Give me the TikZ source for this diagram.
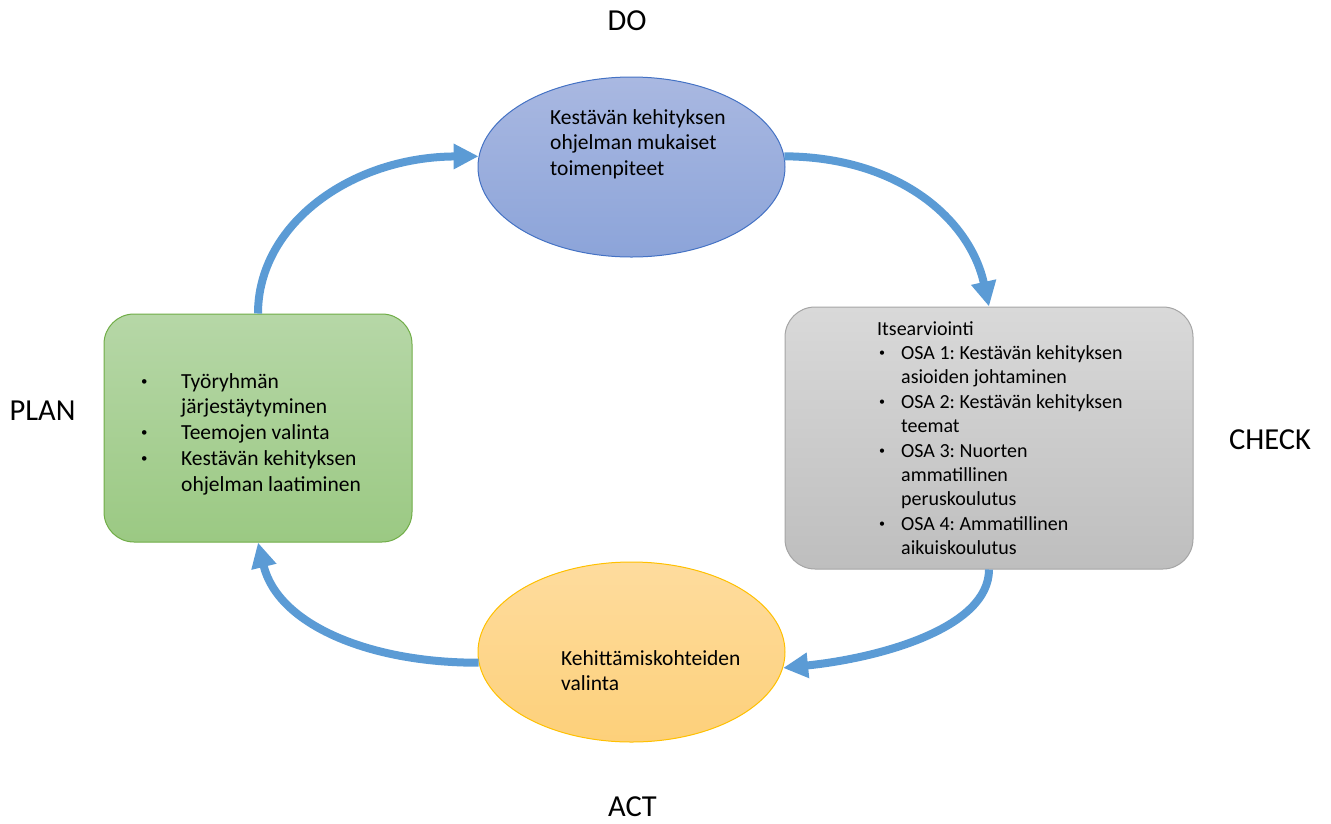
\documentclass[tikz,border=0pt]{standalone}
\usepackage{fontspec}
\usepackage{graphicx}
\setmainfont{Carlito}
\usetikzlibrary{shapes.geometric,arrows.meta}

\definecolor{cycleblue}{HTML}{5B9BD5}
\definecolor{doTop}{HTML}{A9B8E1}
\definecolor{doBot}{HTML}{8CA4D9}
\definecolor{doLine}{HTML}{4472C4}
\definecolor{chTop}{HTML}{D9D9D9}
\definecolor{chBot}{HTML}{BEBEBE}
\definecolor{chLine}{HTML}{A5A5A5}
\definecolor{plTop}{HTML}{B6D7A7}
\definecolor{plBot}{HTML}{9BC983}
\definecolor{plLine}{HTML}{70AD47}
\definecolor{acTop}{HTML}{FEDC9E}
\definecolor{acBot}{HTML}{FDD07A}
\definecolor{acLine}{HTML}{FFC000}

\newcommand\bodyfont{\fontsize{21.5}{25.8}\selectfont\frenchspacing}
\newcommand\listfont{\fontsize{20}{24.4}\selectfont\frenchspacing}
\newcommand\itemdot{\raisebox{0.13em}{\scalebox{0.6}{\textbullet}}}

\tikzset{
  phase/.style={ellipse, inner sep=0pt, minimum width=307pt, minimum height=180pt, line width=1pt},
  panel/.style={rectangle, rounded corners=30pt, inner sep=0pt, line width=1pt},
  body/.style={inner sep=0pt, anchor=base west, align=left},
  stage/.style={inner sep=0pt, font=\fontsize{30.5}{36}\selectfont},
  cycle/.style={draw=cycleblue, line width=8pt, -{Triangle[length=25pt,width=24pt]}},
}

\begin{document}
\begin{tikzpicture}[x=1pt,y=-1pt]
\useasboundingbox (0,0) rectangle (1331,823);

% the four phases
\node[phase, draw=doLine, top color=doTop, bottom color=doBot] (do) at (631.5,167) {};
\node[phase, draw=acLine, top color=acTop, bottom color=acBot] (act) at (631.5,652) {};
\node[panel, draw=chLine, top color=chTop, bottom color=chBot,
      minimum width=408pt, minimum height=262pt] (check) at (989,438) {};
\node[panel, draw=plLine, top color=plTop, bottom color=plBot,
      minimum width=308pt, minimum height=228pt] (plan) at (258,428) {};

% texts inside the phases
\node[body] (dotext) at (550,124) {\bodyfont
  \begin{tabular}[t]{@{}l@{}}Kestävän kehityksen\\ ohjelman mukaiset\\ toimenpiteet\end{tabular}};

\node[body] (acttext) at (561,665) {\bodyfont
  \begin{tabular}[t]{@{}l@{}}Kehittämiskohteiden\\ valinta\end{tabular}};

\node[body] (plantext) at (141,388) {\bodyfont
  \begin{tabular}[t]{@{}p{40pt}@{}l@{}}
  \itemdot & Työryhmän\\
           & järjestäytyminen\\
  \itemdot & Teemojen valinta\\
  \itemdot & Kestävän kehityksen\\
           & ohjelman laatiminen
  \end{tabular}};

\node[body] (checktext) at (877,335) {\listfont
  \begin{tabular}[t]{@{}p{24pt}@{}l@{}}
  \multicolumn{2}{@{}l@{}}{Itsearviointi}\\
  \hspace*{2pt}\itemdot & OSA 1: Kestävän kehityksen\\
                        & asioiden johtaminen\\
  \hspace*{2pt}\itemdot & OSA 2: Kestävän kehityksen\\
                        & teemat\\
  \hspace*{2pt}\itemdot & OSA 3: Nuorten\\
                        & ammatillinen\\
                        & peruskoulutus\\
  \hspace*{2pt}\itemdot & OSA 4: Ammatillinen\\
                        & aikuiskoulutus
  \end{tabular}};

% stage labels
\node[stage] (lbldo) at (627,21) {DO};
\node[stage] (lblplan) at (42.5,411) {PLAN};
\node[stage] (lblcheck) at (1270,440) {CHECK};
\node[stage] (lblact) at (632.5,807) {ACT};

% cycle arrows
\draw[cycle] (plan.north) .. controls (258,225) and (350,157) .. (do.176);
\draw[cycle] (do.4) .. controls (900,157) and (970,220) .. (check.north);
\draw[cycle] (check.south) .. controls (989,628) and (880,658) .. (act.-6);
\draw[cycle] (act.184) .. controls (370,663) and (278,625) .. (plan.south);
\end{tikzpicture}
\end{document}
